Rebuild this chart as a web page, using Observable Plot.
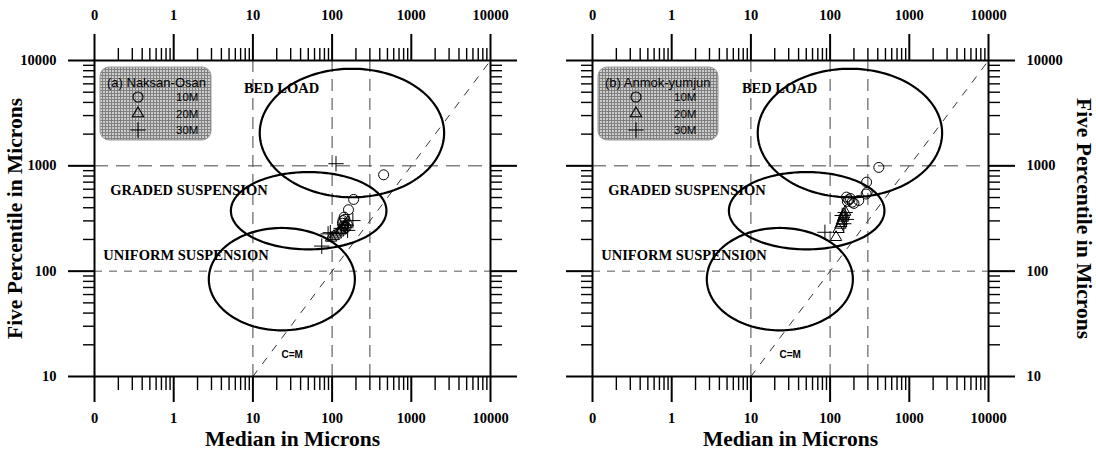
<!DOCTYPE html>
<html><head><meta charset="utf-8">
<script src="https://cdn.jsdelivr.net/npm/d3@7"></script>
<script src="https://cdn.jsdelivr.net/npm/@observablehq/plot@0.6"></script>
<style>
html,body{margin:0;padding:0;background:#fff;}
#wrap{position:relative;width:1096px;height:452px;overflow:hidden;background:#fff;}
#wrap>svg{position:absolute;top:0;}
</style></head><body><div id="wrap"></div>
<script>
// ---- axis ticks ----
const xMajorTicks = [0.1, 1, 10, 100, 1000, 10000];
const yMajorTicks = [10, 100, 1000, 10000];
const minorMultipliers = [2, 3, 4, 5, 6, 7, 8, 9];
const xGridLines = [10, 100, 300];
const yGridLong = [1000];
const yGridShort = [100];
const cmLine = [10, 10000];

// ---- Passega zones (ellipses in log space) ----
const ellipseNames = ["BED LOAD", "GRADED SUSPENSION", "UNIFORM SUSPENSION"];
const ellipseCenterM = [178, 50.6, 23.2];
const ellipseCenterC = [2050, 375, 84];
const ellipseHalfWidthDecades = [1.164, 0.982, 0.922];
const ellipseHalfHeightDecades = [0.61, 0.367, 0.486];
const zoneLabelM = [7.7, 0.158, 0.129];
const zoneLabelC = [5430, 583, 141];

// ---- panel (a) Naksan-Osan ----
const a10M_median = [447, 187, 161, 142, 137, 135, 140, 150, 145];
const a10M_c5     = [822, 480, 383, 326, 302, 285, 270, 260, 310];
const a20M_median = [97, 105, 112, 120, 128, 135, 142, 150, 158, 130];
const a20M_c5     = [207, 214, 222, 232, 242, 252, 265, 278, 290, 245];
const a30M_median = [112, 74, 89, 95, 183, 157, 130, 145];
const a30M_c5     = [1047, 173, 226, 232, 302, 244, 255, 275];

// ---- panel (b) Anmok-yumjun ----
const b10M_median = [412, 289, 294, 285, 230, 172, 190, 161, 180, 200, 165];
const b10M_c5     = [966, 700, 562, 540, 469, 476, 452, 505, 490, 440, 460];
const b20M_median = [119, 128, 135, 140, 145, 150, 155, 138, 148];
const b20M_c5     = [210, 250, 275, 300, 320, 345, 365, 285, 330];
const b30M_median = [86, 142, 149, 155, 160];
const b30M_c5     = [234, 338, 282, 360, 310];

const depths = ["10M", "20M", "30M"];
const symbols = ["circle", "triangle", "plus"];
const symbolR = [5, 4.2, 5];

const xMinorTicks = [0.1, 1, 10, 100, 1000].flatMap(d => minorMultipliers.map(k => d * k));
const yMinorTicks = [10, 100, 1000].flatMap(d => minorMultipliers.map(k => d * k));

function zip(ms, cs) { return ms.map((m, i) => ({m, c: cs[i]})); }

function ellipsePoints(i) {
  const pts = [];
  const lx = Math.log10(ellipseCenterM[i]), ly = Math.log10(ellipseCenterC[i]);
  for (let k = 0; k <= 160; k++) {
    const t = k / 160 * 2 * Math.PI;
    pts.push({m: 10 ** (lx + ellipseHalfWidthDecades[i] * Math.cos(t)),
              c: 10 ** (ly + ellipseHalfHeightDecades[i] * Math.sin(t)), zone: ellipseNames[i]});
  }
  return pts;
}
const ellipseData = ellipseNames.flatMap((_, i) => ellipsePoints(i));

function legendMark(id, title, boxW) {
  return (index, scales, values, dims) => {
    const x0 = dims.marginLeft + 6, y0 = dims.marginTop + 7;
    const g = d3.create("svg:g").attr("text-anchor", "start");
    const pat = g.append("defs").append("pattern").attr("id", id)
      .attr("width", 3).attr("height", 3).attr("patternUnits", "userSpaceOnUse");
    pat.append("rect").attr("width", 3).attr("height", 3).attr("fill", "#cccccc");
    pat.append("path").attr("d", "M0,0.5H3M0.5,0V3").attr("stroke", "#808080").attr("stroke-width", 1);
    g.append("rect").attr("x", x0).attr("y", y0).attr("width", boxW).attr("height", 73)
      .attr("rx", 9).attr("fill", `url(#${id})`).attr("stroke", "#999").attr("stroke-width", 1);
    g.append("text").attr("x", x0 + 7).attr("y", y0 + 19.5).text(title)
      .attr("text-anchor", "start")
      .attr("font-family", "'Liberation Sans', Arial, sans-serif").attr("font-size", 13)
      .attr("font-weight", "normal").attr("fill", "black");
    const sym = {circle: d3.symbolCircle, triangle: d3.symbolTriangle, plus: d3.symbolPlus};
    depths.forEach((d, i) => {
      const yy = y0 + 30 + i * 16.5;
      g.append("path").attr("transform", `translate(${x0 + 38},${yy})`)
        .attr("d", d3.symbol(sym[symbols[i]], symbolR[i] * symbolR[i] * Math.PI)())
        .attr("fill", "none").attr("stroke", "black").attr("stroke-width", 1.1);
      g.append("text").attr("x", x0 + 76).attr("y", yy + 4).text(d)
        .attr("text-anchor", "start")
        .attr("font-family", "'Liberation Sans', Arial, sans-serif").attr("font-size", 11.5)
        .attr("font-weight", "normal").attr("fill", "black");
    });
    return g.node();
  };
}

function panel({id, title, sets, labelSide, marginLeft, marginRight, legendW}) {
  const fmt = d => d < 1 ? "0" : String(d);
  const otherSide = labelSide === "left" ? "right" : "left";
  const titleDx = labelSide === "left" ? -79 : 95;
  const titleRot = labelSide === "left" ? -90 : 90;
  return Plot.plot({
    width: 548, height: 452,
    marginTop: 60, marginBottom: 76, marginLeft, marginRight,
    x: {type: "log", domain: [0.1, 10000], axis: null, label: null},
    y: {type: "log", domain: [10, 10000], axis: null, label: null},
    style: {fontFamily: "'Liberation Serif', 'Times New Roman', serif", fontSize: "14px", fontWeight: "bold", overflow: "visible", background: "transparent"},
    marks: [
      Plot.ruleX(xGridLines, {stroke: "#444", strokeWidth: 1, strokeDasharray: "12,7"}),
      Plot.ruleY(yGridLong, {stroke: "#444", strokeWidth: 1, strokeDasharray: "14,8"}),
      Plot.ruleY(yGridShort, {stroke: "#555", strokeWidth: 1, strokeDasharray: "8,7"}),
      Plot.line(cmLine.map(v => ({m: v, c: v})), {x: "m", y: "c", stroke: "#333", strokeWidth: 1, strokeDasharray: "7,9"}),
      Plot.line(ellipseData, {x: "m", y: "c", z: "zone", stroke: "black", strokeWidth: 2.2, curve: "linear"}),
      Plot.text(ellipseNames.map((_, i) => i), {x: i => zoneLabelM[i], y: i => zoneLabelC[i], text: i => ellipseNames[i], textAnchor: "start", fontSize: 14.5, fontWeight: "bold", fill: "black"}),
      Plot.text(["C=M"], {x: [23], y: [16.2], text: d => d, textAnchor: "start", fontSize: 10, fontWeight: "bold", fontFamily: "'Liberation Sans', Arial, sans-serif"}),
      ...sets.map((s, i) => Plot.dot(s, {x: "m", y: "c", symbol: symbols[i], r: symbolR[i], stroke: "black", fill: "none", strokeWidth: 1})),
      legendMark(id, title, legendW),
      Plot.frame({stroke: "black", strokeWidth: 2}),
      Plot.axisX(xMajorTicks, {anchor: "top", tickSize: 27, tickPadding: 14, tickFormat: fmt, strokeWidth: 2, fontSize: 14.5, label: null}),
      Plot.axisX(xMinorTicks, {anchor: "top", tickSize: 13, tickFormat: null, text: null, strokeWidth: 1.4, label: null}),
      Plot.axisX(xMajorTicks, {anchor: "bottom", tickSize: 26, tickPadding: 10, tickFormat: fmt, strokeWidth: 2, fontSize: 14.5, label: null}),
      Plot.axisX(xMinorTicks, {anchor: "bottom", tickSize: 14, tickFormat: null, text: null, strokeWidth: 1.4, label: null}),
      Plot.axisY(yMajorTicks, {anchor: labelSide, tickSize: 26, tickPadding: 12, tickFormat: fmt, strokeWidth: 2, fontSize: 14.5, label: null}),
      Plot.axisY(yMinorTicks, {anchor: labelSide, tickSize: 11, tickFormat: null, text: null, strokeWidth: 1.4, label: null}),
      Plot.axisY(yMajorTicks, {anchor: otherSide, tickSize: 26, tickFormat: null, text: null, strokeWidth: 2, label: null}),
      Plot.axisY(yMinorTicks, {anchor: otherSide, tickSize: 11, tickFormat: null, text: null, strokeWidth: 1.4, label: null}),
      Plot.text(["Five Percentile in Microns"], {frameAnchor: labelSide, dx: titleDx, rotate: titleRot, textAnchor: "middle", lineAnchor: "middle", text: d => d, fontSize: 21.5, fontWeight: "bold"}),
      Plot.text(["Median in Microns"], {frameAnchor: "bottom", dy: 63, textAnchor: "middle", lineAnchor: "middle", text: d => d, fontSize: 21.5, fontWeight: "bold"})
    ]
  });
}

const wrap = document.getElementById("wrap");
const pa = panel({id: "stipA", title: "(a) Naksan-Osan", labelSide: "left", marginLeft: 94, marginRight: 58, legendW: 111,
  sets: [zip(a10M_median, a10M_c5), zip(a20M_median, a20M_c5), zip(a30M_median, a30M_c5)]});
pa.style.left = "0px";
wrap.appendChild(pa);
const pb = panel({id: "stipB", title: "(b) Anmok-yumjun", labelSide: "right", marginLeft: 44, marginRight: 108, legendW: 120,
  sets: [zip(b10M_median, b10M_c5), zip(b20M_median, b20M_c5), zip(b30M_median, b30M_c5)]});
pb.style.left = "548px";
wrap.appendChild(pb);
</script></body></html>
